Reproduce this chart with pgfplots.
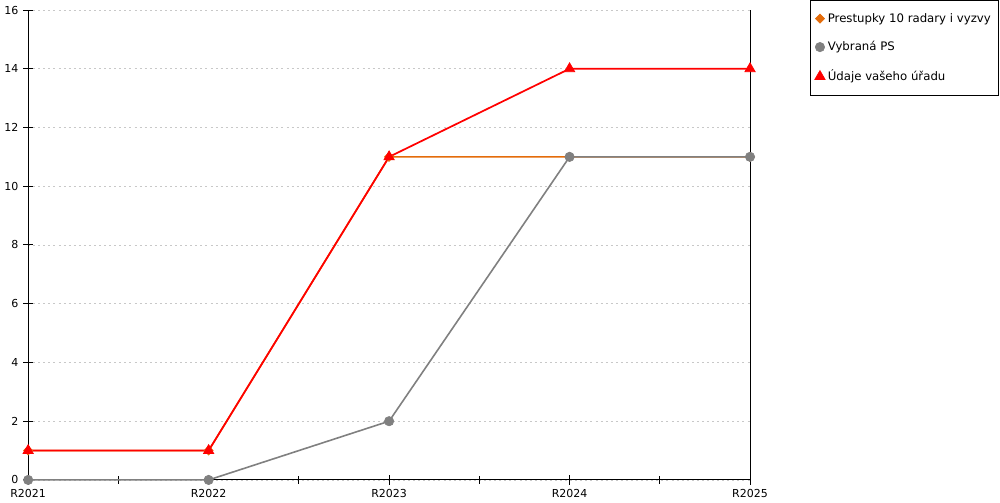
\documentclass[border=0pt]{standalone}
\usepackage{fontspec}
\setmainfont{DejaVu Sans}
\usepackage{pgfplots}
\pgfplotsset{compat=1.18}
\definecolor{cOrange}{HTML}{E46C0A}
\definecolor{cGray}{HTML}{808080}
\definecolor{cRed}{HTML}{FF0000}
\definecolor{cGrid}{HTML}{C8C8C8}
\begin{document}
\begin{tikzpicture}
\path (0,0) rectangle (750pt,375pt);
\begin{axis}[
    at={(21pt,15pt)}, anchor=south west,
    scale only axis,
    width=541.5pt, height=352.5pt,
    xmin=0, xmax=4, ymin=0, ymax=16,
    axis lines*=left,
    axis line style={black, line width=0.75pt},
    xtick={0,1,2,3,4},
    xticklabels={R2021,R2022,R2023,R2024,R2025},
    minor xtick={0.5,1.5,2.5,3.5},
    ytick={0,2,...,16},
    ymajorgrids,
    major grid style={cGrid, line width=0.6pt, dash pattern=on 1.5pt off 2.3pt},
    tick align=center,
    major tick length=7.5pt, minor tick length=6pt,
    tick style={black, line width=0.75pt},
    ticklabel style={font=\fontsize{8.25}{10}\selectfont},
    /pgf/number format/assume math mode=true,
    clip=false,
    legend style={at={(1.3444,1.0213)}, anchor=north east,
        draw=black, line width=0.75pt,
        font=\fontsize{8.8}{10.5}\selectfont,
        inner xsep=3.5pt, inner ysep=7.5pt, row sep=9pt},
    legend cell align=left,
    legend image code/.code={\draw[#1] plot coordinates {(3.75pt,0pt)};},
]
\addplot[cOrange, line width=1.2pt, mark=square*, mark size=2.4pt,
    mark options={fill=cOrange, draw=cOrange, line width=0.5pt, rotate=45}]
    coordinates {(0,1) (1,1) (2,11) (3,11) (4,11)};
\addlegendentry{Prestupky 10 radary i vyzvy}
\addplot[cGray, line width=1.2pt, mark=*, mark size=3.5pt,
    mark options={fill=cGray, draw=cGray, line width=0.5pt}]
    coordinates {(0,0) (1,0) (2,2) (3,11) (4,11)};
\addlegendentry{Vybraná PS}
\addplot[cRed, line width=1.3pt, mark=triangle*, mark size=4.5pt,
    mark options={fill=cRed, draw=cRed, line width=0.5pt}]
    coordinates {(0,1) (1,1) (2,11) (3,14) (4,14)};
\addlegendentry{Údaje vašeho úřadu}
\draw[black, line width=0.75pt] (rel axis cs:1,0) -- (rel axis cs:1,1);
\end{axis}
\end{tikzpicture}
\end{document}
